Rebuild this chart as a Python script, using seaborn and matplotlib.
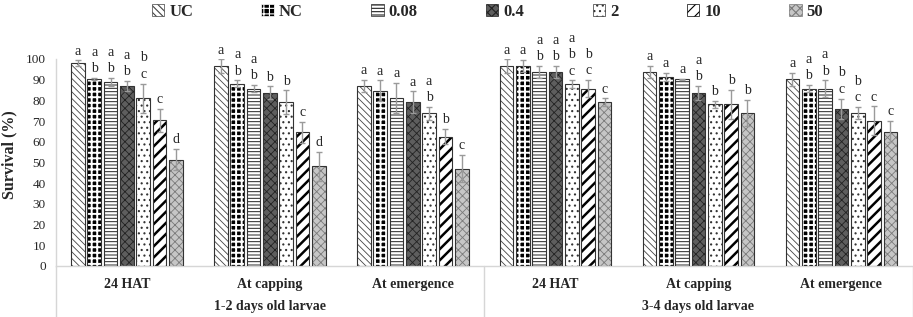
import pandas as pd
import matplotlib
matplotlib.use("Agg")
import matplotlib.pyplot as plt
import matplotlib.transforms as mtransforms
from matplotlib.patches import Patch, Rectangle
import seaborn as sns

# ---- data ----
treatments = ["UC", "NC", "0.08", "0.4", "2", "10", "50"]
stages = ["24 HAT", "At capping", "At emergence"]
ages = ["1-2 days old larvae", "3-4 days old larvae"]

# mean survival (%) per treatment, one list per age x stage
young_24hat = [98.0, 90.2, 88.9, 86.9, 81.1, 70.3, 51.4]
young_capping = [96.6, 88.0, 85.7, 83.7, 79.2, 64.6, 48.1]
young_emergence = [86.9, 84.6, 81.1, 79.0, 73.7, 62.5, 47.0]
old_24hat = [96.6, 96.6, 93.6, 93.6, 87.8, 85.7, 79.0]
old_capping = [93.6, 91.3, 90.2, 83.7, 78.1, 78.1, 73.9]
old_emergence = [90.2, 85.6, 85.6, 76.0, 73.9, 70.2, 64.8]

# standard errors
young_24hat_err = [1.3, 0.5, 2.0, 2.5, 7.0, 5.5, 5.2]
young_capping_err = [3.2, 1.7, 1.6, 3.0, 5.6, 5.0, 6.9]
young_emergence_err = [3.0, 5.0, 7.2, 5.3, 3.1, 3.7, 6.5]
old_24hat_err = [3.2, 3.0, 3.0, 3.0, 1.8, 4.2, 1.9]
old_capping_err = [3.0, 1.8, 0.3, 3.3, 1.7, 7.0, 6.4]
old_emergence_err = [3.2, 1.7, 4.0, 4.8, 2.9, 6.9, 5.1]

# significance letters
young_24hat_sig = ["a", "a\nb", "a\nb", "a\nb", "b\nc", "c", "d"]
young_capping_sig = ["a", "a\nb", "a\nb", "b", "b", "c", "d"]
young_emergence_sig = ["a", "a", "a", "a", "a\nb", "b", "c"]
old_24hat_sig = ["a", "a", "a\nb", "a\nb", "a\nb\nc", "b\nc", "c"]
old_capping_sig = ["a", "a", "a", "a\nb", "b", "b", "b"]
old_emergence_sig = ["a", "a\nb", "a\nb", "b\nc", "b\nc", "c", "c"]

means = [young_24hat, young_capping, young_emergence, old_24hat, old_capping, old_emergence]
errors = [young_24hat_err, young_capping_err, young_emergence_err,
          old_24hat_err, old_capping_err, old_emergence_err]
letters = [young_24hat_sig, young_capping_sig, young_emergence_sig,
           old_24hat_sig, old_capping_sig, old_emergence_sig]

# bar styles: face colour, hatch colour, hatch pattern, hatch width
styles = {
    "UC": ("white", "#444444", "\\" * 5, 0.6),
    "NC": ("black", "white", "+++", 1.4),
    "0.08": ("white", "#222222", "-" * 5, 0.7),
    "0.4": ("#5e5e5e", "#222222", "xxxx", 0.6),
    "2": ("white", "#333333", "...", 0.8),
    "10": ("white", "black", "///", 1.8),
    "50": ("#c6c6c6", "#7a7a7a", "xxxx", 0.6),
}

cats = [f"{a}|{s}" for a in ages for s in stages]
rows = []
for k, cat in enumerate(cats):
    for t, v in zip(treatments, means[k]):
        rows.append({"cat": cat, "treatment": t, "survival": v})
df = pd.DataFrame(rows)

sns.set_style("white")
plt.rcParams["font.family"] = ["Liberation Serif", "DejaVu Serif"]
plt.rcParams["hatch.linewidth"] = 0.8

fig = plt.figure(figsize=(9.13, 3.17), dpi=100)
ax = fig.add_axes([0.0608, 0.161, 0.939, 0.653])

sns.barplot(data=df, x="cat", y="survival", hue="treatment", order=cats,
            hue_order=treatments, palette=[styles[t][0] for t in treatments],
            saturation=1, width=0.8, errorbar=None, legend=False, ax=ax)

for t, container in zip(treatments, ax.containers):
    face, hcol, hatch, hlw = styles[t]
    ti = treatments.index(t)
    for bar in container:
        # leave a small gap between neighbouring bars
        cx = bar.get_x() + bar.get_width() / 2
        w = bar.get_width() * 0.84
        bar.set_width(w)
        bar.set_x(cx - w / 2)
        bar.set_facecolor(face)
        bar.set_edgecolor(hcol)
        bar.set_linewidth(0)
        bar.set_hatch(hatch)
        if hasattr(bar, "set_hatch_linewidth"):
            bar.set_hatch_linewidth(hlw)
        ax.add_patch(Rectangle(bar.get_xy(), bar.get_width(), bar.get_height(),
                               fill=False, ec="#333333", lw=0.8, zorder=3))
        k = int(round(cx))
        h = bar.get_height()
        e = errors[k][ti]
        ax.errorbar(cx, h, yerr=e, fmt="none", ecolor="#9a9a9a",
                    elinewidth=1, capsize=2.5, capthick=1, zorder=4)
        ax.annotate(letters[k][ti], (cx, h + e), xytext=(0, 2),
                    textcoords="offset points", ha="center", va="bottom",
                    fontsize=10, linespacing=1.35, annotation_clip=False)

ax.set_ylim(0, 100)
ax.set_xlim(-0.5, 5.5)
ax.set_yticks(range(0, 101, 10))
ax.tick_params(axis="y", length=0, labelsize=9.5, pad=7)
ax.set_xticks(range(len(cats)))
ax.set_xticklabels(stages * 2, fontsize=10, fontweight="bold")
ax.tick_params(axis="x", length=0, pad=9)
ax.set_xlabel("")
ax.set_ylabel("Survival (%)", fontsize=11.5, fontweight="bold")
ax.yaxis.set_label_coords(-0.045, 0.54)

for side in ["top", "right"]:
    ax.spines[side].set_visible(False)
for side in ["left", "bottom"]:
    ax.spines[side].set_color("#d6d6d6")
    ax.spines[side].set_linewidth(1)

blend = mtransforms.blended_transform_factory(ax.transData, ax.transAxes)
for xs in [-0.5, 2.5, 5.5]:
    ax.plot([xs, xs], [0, -0.26], transform=blend, color="#d6d6d6",
            lw=1, clip_on=False)
for i, a in enumerate(ages):
    ax.text(1 + 3 * i, -0.198, a, transform=blend, ha="center", va="center",
            fontsize=10, fontweight="bold")

handles = []
for t in treatments:
    face, hcol, hatch, hlw = styles[t]
    handles.append(Patch(facecolor=face, edgecolor=hcol, hatch=hatch, lw=0.5))
fig.legend(handles, treatments, loc="upper center", bbox_to_anchor=(0.534, 1.035),
           ncol=7, frameon=False, prop={"weight": "bold", "size": 12},
           handlelength=0.75, handleheight=0.75, handletextpad=0.3,
           columnspacing=4.1)

fig.savefig("out.png", dpi=100)
